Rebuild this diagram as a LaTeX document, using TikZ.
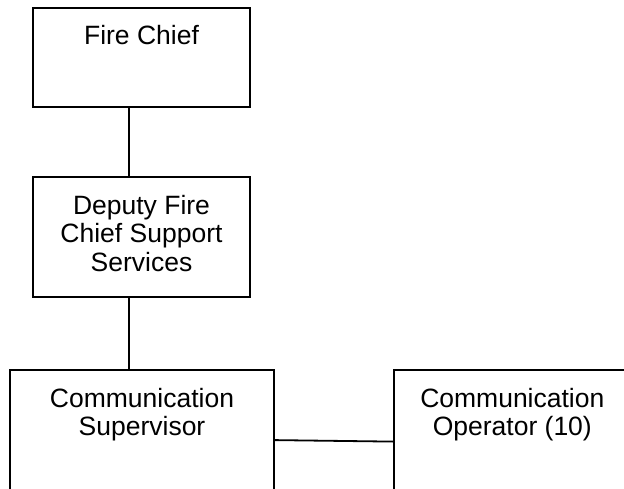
\documentclass[tikz,border=0pt]{standalone}
\usepackage{fontspec}
\setmainfont{Liberation Sans}
\begin{document}
\begin{tikzpicture}[x=1bp, y=-1bp,
    box/.style={draw, line width=1.8bp, inner sep=0pt, minimum width=#1},
    boxtext/.style={anchor=north, yshift=-18.5bp, align=center, inner sep=0pt,
      font=\fontsize{26.5bp}{28.5bp}\selectfont},
    link/.style={line width=1.8bp}]
  \useasboundingbox (0,0) rectangle (624,489);
  \clip (0,0) rectangle (624,489);

  % boxes of the chart
  \node[box=217bp, minimum height=99bp,
        label={[boxtext]north:{Fire Chief}}] (chief) at (141.5,57.5) {};
  \node[box=217bp, minimum height=120bp,
        label={[boxtext]north:{Deputy Fire\\Chief Support\\Services}}] (deputy) at (141.5,237) {};
  \node[box=264bp, minimum height=200bp,
        label={[boxtext]north:{Communication\\Supervisor}}] (sup) at (142,470) {};
  \node[box=237.3bp, minimum height=200bp,
        label={[boxtext]north:{Communication\\Operator (10)}}] (op) at (512.3,470) {};

  % reporting lines
  \draw[link] ([xshift=97bp]chief.south west) -- ([xshift=97bp]deputy.north west);
  \draw[link] ([xshift=97bp]deputy.south west) -- ([xshift=120bp]sup.north west);
  \draw[link] ([yshift=-71bp]sup.north east) -- ([yshift=-72.5bp]op.north west);
\end{tikzpicture}
\end{document}
